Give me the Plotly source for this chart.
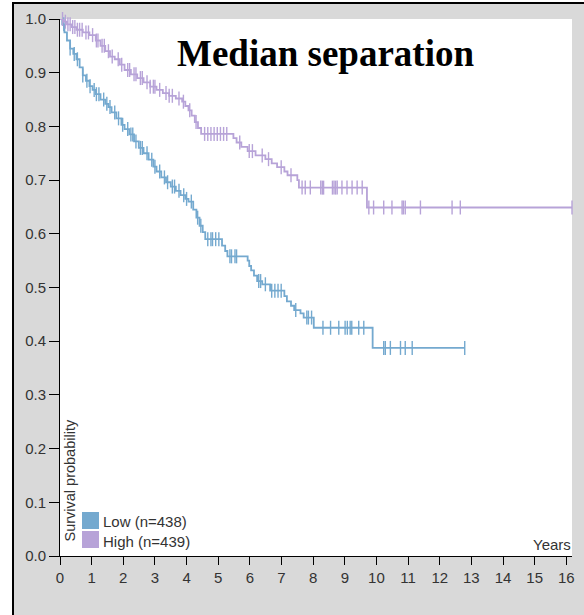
import plotly.graph_objects as go

# ---- data ----
low_name = "Low (n=438)"
high_name = "High (n=439)"

low_times = [0.0, 0.07, 0.14, 0.22, 0.32, 0.42, 0.52, 0.62, 0.72, 0.82, 0.93, 1.03, 1.13, 1.28, 1.43,
             1.53, 1.63, 1.78, 1.94, 2.04, 2.19, 2.34, 2.49, 2.64, 2.8, 2.95, 3.05, 3.2, 3.35, 3.5,
             3.66, 3.81, 3.96, 4.06, 4.21, 4.31, 4.41, 4.51, 4.59, 5.12, 5.22, 5.29, 5.93, 5.98, 6.04,
             6.13, 6.23, 6.39, 6.64, 7.09, 7.17, 7.3, 7.4, 7.6, 7.7, 8.02, 9.88]
low_surv = [1.0, 0.99, 0.975, 0.96, 0.945, 0.935, 0.925, 0.91, 0.895, 0.885, 0.875, 0.868, 0.86, 0.85,
            0.842, 0.836, 0.826, 0.815, 0.803, 0.795, 0.785, 0.772, 0.76, 0.75, 0.738, 0.725, 0.716,
            0.705, 0.696, 0.688, 0.68, 0.672, 0.665, 0.66, 0.645, 0.63, 0.615, 0.603, 0.59, 0.578,
            0.568, 0.558, 0.55, 0.54, 0.532, 0.522, 0.512, 0.506, 0.494, 0.484, 0.474, 0.466, 0.458,
            0.452, 0.444, 0.425, 0.3875]
low_end = 12.79
low_censor = [0.12, 0.32, 0.45, 0.55, 0.72, 0.85, 0.95, 1.08, 1.15, 1.23, 1.38, 1.48, 1.58, 1.73,
              1.85, 1.98, 2.14, 2.24, 2.3, 2.4, 2.54, 2.6, 2.75, 2.9, 3.0, 3.15, 3.3, 3.4, 3.55,
              3.62, 3.76, 3.91, 4.0, 4.15, 4.35, 4.45, 4.67, 4.77, 4.82, 4.92, 5.02, 5.37, 5.42,
              5.53, 5.58, 6.28, 6.34, 6.49, 6.69, 6.79, 6.89, 6.99, 7.45, 7.8, 7.85, 7.95, 8.31,
              8.55, 8.81, 9.01, 9.08, 9.17, 9.22, 9.44, 9.6, 10.23, 10.28, 10.44, 10.76, 10.91,
              11.13, 12.79]

high_times = [0.0, 0.12, 0.22, 0.37, 0.52, 0.72, 0.93, 1.13, 1.28, 1.43, 1.58, 1.73, 1.89, 2.04, 2.24,
              2.44, 2.64, 2.85, 3.05, 3.25, 3.45, 3.66, 3.86, 3.96, 4.06, 4.16, 4.26, 4.36, 4.46,
              5.48, 5.58, 5.73, 5.93, 6.18, 6.49, 6.69, 6.86, 7.09, 7.19, 7.5, 7.55, 9.7]
high_surv = [1.0, 0.995, 0.99, 0.985, 0.98, 0.975, 0.97, 0.96, 0.95, 0.94, 0.93, 0.925, 0.915, 0.905,
             0.897, 0.89, 0.882, 0.874, 0.868, 0.862, 0.857, 0.852, 0.846, 0.838, 0.83, 0.82, 0.808,
             0.797, 0.786, 0.778, 0.77, 0.762, 0.754, 0.746, 0.739, 0.731, 0.724, 0.716, 0.709, 0.7,
             0.686, 0.649]
high_end = 16.18
high_censor = [0.08, 0.17, 0.25, 0.32, 0.4, 0.47, 0.55, 0.62, 0.7, 0.82, 0.9, 1.03, 1.15, 1.2, 1.33,
               1.4, 1.53, 1.65, 1.84, 1.95, 2.14, 2.2, 2.34, 2.4, 2.54, 2.6, 2.75, 2.85, 2.95, 3.0,
               3.15, 3.35, 3.45, 3.55, 3.76, 3.9, 4.1, 4.3, 4.57, 4.67, 4.77, 4.87, 4.97, 5.07,
               5.17, 5.27, 5.68, 5.98, 6.08, 6.39, 6.59, 6.99, 7.3, 7.65, 7.75, 7.91, 8.24, 8.29,
               8.33, 8.61, 8.66, 8.71, 8.76, 8.91, 9.07, 9.23, 9.39, 9.55, 9.76, 9.91, 10.23,
               10.49, 10.81, 10.85, 10.91, 11.39, 12.39, 12.65, 16.18]

x_ticks = list(range(0, 17))
y_ticks = [0.0, 0.1, 0.2, 0.3, 0.4, 0.5, 0.6, 0.7, 0.8, 0.9, 1.0]

LOW_COLOR = "#74a9cf"
HIGH_COLOR = "#b7a3d8"
FONT = "Liberation Sans, Arial, sans-serif"


def surv_at(times, surv, t):
    s = surv[0]
    for ti, si in zip(times, surv):
        if ti <= t:
            s = si
    return s


fig = go.Figure()
for times, surv, end, cens, color, name in [
    (low_times, low_surv, low_end, low_censor, LOW_COLOR, low_name),
    (high_times, high_surv, high_end, high_censor, HIGH_COLOR, high_name),
]:
    fig.add_trace(go.Scatter(x=times + [end], y=surv + [surv[-1]], mode="lines",
                             line=dict(color=color, width=1.8, shape="hv"),
                             name=name, showlegend=False, cliponaxis=False))
    fig.add_trace(go.Scatter(x=cens, y=[surv_at(times, surv, t) for t in cens], mode="markers",
                             marker=dict(symbol="line-ns", size=10,
                                         line=dict(color=color, width=1.4)),
                             showlegend=False, cliponaxis=False, hoverinfo="skip"))

W, H = 584, 615
L, R, T, B = 60, 12, 19, 59
pw, ph = W - L - R, H - T - B


def px(x):
    return (x - L) / pw


def py(y):
    return (H - B - y) / ph


shapes = [
    # white outside the frame
    dict(type="rect", xref="paper", yref="paper", x0=px(-5), x1=px(12), y0=py(700), y1=py(-50),
         fillcolor="white", line=dict(width=0), layer="above"),
    dict(type="rect", xref="paper", yref="paper", x0=px(-5), x1=px(600), y0=py(2), y1=py(-50),
         fillcolor="white", line=dict(width=0), layer="above"),
    # frame lines
    dict(type="line", xref="paper", yref="paper", x0=px(13), x1=px(13), y0=py(2), y1=py(620),
         line=dict(color="black", width=2)),
    dict(type="line", xref="paper", yref="paper", x0=px(12), x1=px(600), y0=py(3), y1=py(3),
         line=dict(color="black", width=2)),
    # legend swatches
    dict(type="rect", xref="paper", yref="paper", x0=px(82), x1=px(99), y0=py(529), y1=py(512),
         fillcolor=LOW_COLOR, line=dict(width=0)),
    dict(type="rect", xref="paper", yref="paper", x0=px(82), x1=px(99), y0=py(548), y1=py(531),
         fillcolor=HIGH_COLOR, line=dict(width=0)),
]

annotations = [
    dict(text="<b>Median separation</b>", xref="paper", yref="paper", x=px(325), y=py(53),
         xanchor="center", yanchor="middle", showarrow=False,
         font=dict(family="Liberation Serif, Times New Roman, serif", size=37, color="black")),
    dict(text=low_name, xref="paper", yref="paper", x=px(101), y=py(521), xanchor="left",
         yanchor="middle", showarrow=False, font=dict(family=FONT, size=15, color="#333")),
    dict(text=high_name, xref="paper", yref="paper", x=px(101), y=py(541), xanchor="left",
         yanchor="middle", showarrow=False, font=dict(family=FONT, size=15, color="#333")),
    dict(text="Survival probability", xref="paper", yref="paper", x=px(69.5), y=py(544),
         xanchor="center", yanchor="bottom", textangle=-90, showarrow=False,
         font=dict(family=FONT, size=14.5, color="#333")),
    dict(text="Years", xref="paper", yref="paper", x=px(573), y=py(555), xanchor="right",
         yanchor="bottom", showarrow=False, font=dict(family=FONT, size=15, color="#333")),
]

fig.update_layout(
    width=W, height=H,
    margin=dict(l=L, r=R, t=T, b=B, pad=0, autoexpand=False),
    paper_bgcolor="#d9d9d9", plot_bgcolor="white",
    showlegend=False,
    shapes=shapes, annotations=annotations,
    font=dict(family=FONT, size=15, color="#333"),
    xaxis=dict(range=[0, 16.18], tickvals=x_ticks, ticktext=[str(v) for v in x_ticks],
               showgrid=False, zeroline=False, showline=True, linecolor="black", linewidth=1,
               ticks="outside", ticklen=8, tickcolor="black", tickwidth=1, automargin=False,
               tickfont=dict(family=FONT, size=15, color="#333")),
    yaxis=dict(range=[0, 1.0], tickvals=y_ticks, ticktext=[f"{v:.1f}" for v in y_ticks],
               showgrid=False, zeroline=False, showline=True, linecolor="black", linewidth=1,
               ticks="outside", ticklen=10, tickcolor="black", tickwidth=1, automargin=False,
               tickfont=dict(family=FONT, size=15, color="#333")),
)

fig.write_html("out.html", config={"displayModeBar": False},
               post_script="document.body.style.margin='0';document.body.style.padding='0';")
